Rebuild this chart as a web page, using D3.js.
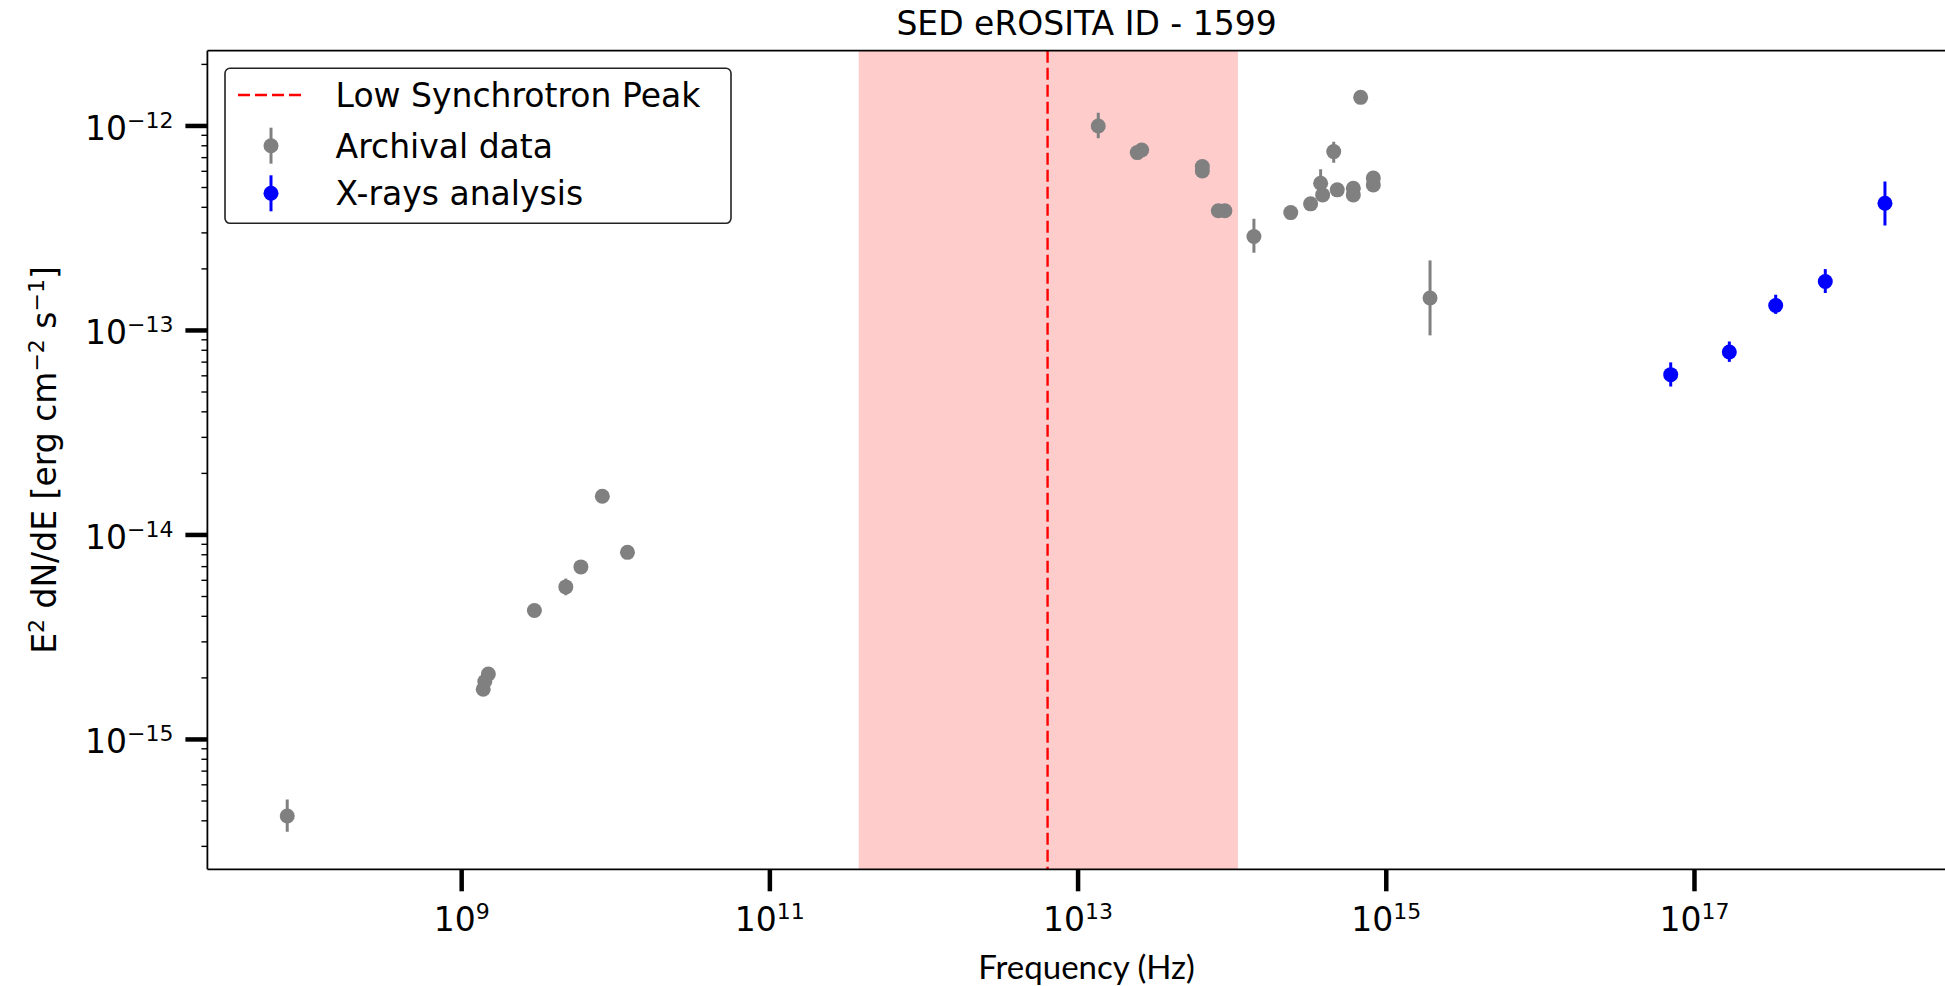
<!DOCTYPE html>
<html>
<head>
<meta charset="utf-8">
<script src="https://cdn.jsdelivr.net/npm/d3@7"></script>
<style>
  html, body { margin: 0; padding: 0; background: #fff; overflow: hidden; }
  svg { display: block; }
  text { font-family: "DejaVu Sans", sans-serif; fill: #000; }
</style>
</head>
<body>
<svg id="chart" width="1945" height="986"></svg>
<script>
// ---------------- data ----------------
const titleText = "SED eROSITA ID - 1599";
const xLabelText = "Frequency (Hz)";

// Archival data (grey)
const archFreq = [7.38e7, 1.380e9, 1.413e9, 1.490e9, 2.965e9, 4.74e9, 5.94e9, 8.18e9, 1.191e10,
  1.352e13, 2.421e13, 2.588e13, 6.40e13, 6.40e13, 8.13e13, 8.97e13, 1.384e14,
  2.399e14, 3.228e14, 3.750e14, 3.864e14, 4.560e14, 4.808e14, 6.11e14, 6.11e14,
  6.82e14, 8.24e14, 8.24e14, 1.923e15];
const archFlux = [4.22e-16, 1.76e-15, 1.92e-15, 2.09e-15, 4.27e-15, 5.57e-15, 6.98e-15, 1.545e-14, 8.22e-15,
  1.00e-12, 7.41e-13, 7.63e-13, 6.33e-13, 6.03e-13, 3.85e-13, 3.85e-13, 2.88e-13,
  3.77e-13, 4.16e-13, 5.25e-13, 4.60e-13, 7.49e-13, 4.87e-13, 4.96e-13, 4.60e-13,
  1.38e-12, 5.56e-13, 5.15e-13, 1.44e-13];
const archErrLo = [0.68e-16, 0.04e-15, 0.04e-15, 0.04e-15, 0.08e-15, 0.50e-15, 0.12e-15, 0.2e-15, 0.15e-15,
  1.29e-13, 0.1e-13, 0.1e-13, 0.1e-13, 0.1e-13, 0.05e-13, 0.05e-13, 0.48e-13,
  0.05e-13, 0.08e-13, 0.89e-13, 0.1e-13, 0.89e-13, 0.1e-13, 0.1e-13, 0.1e-13,
  0.2e-13, 0.1e-13, 0.1e-13, 0.494e-13];
const archErrHi = [0.87e-16, 0.04e-15, 0.04e-15, 0.04e-15, 0.08e-15, 0.55e-15, 0.12e-15, 0.2e-15, 0.15e-15,
  1.60e-13, 0.1e-13, 0.1e-13, 0.1e-13, 0.1e-13, 0.05e-13, 0.05e-13, 0.64e-13,
  0.05e-13, 0.08e-13, 0.89e-13, 0.1e-13, 0.89e-13, 0.1e-13, 0.1e-13, 0.1e-13,
  0.2e-13, 0.1e-13, 0.1e-13, 0.76e-13];

// X-rays analysis (blue)
const xrayFreq = [7.01e16, 1.683e17, 3.365e17, 7.06e17, 1.722e18];
const xrayFlux = [6.08e-14, 7.84e-14, 1.325e-13, 1.735e-13, 4.19e-13];
const xrayErrLo = [0.76e-14, 0.82e-14, 0.12e-13, 0.21e-13, 0.93e-13];
const xrayErrHi = [0.90e-14, 0.99e-14, 0.17e-13, 0.26e-13, 1.16e-13];

// Low synchrotron peak and its uncertainty band
const peakFreq = 6.34e12;
const bandFreq = [3.77e11, 1.09e14];

// axes
const xDomain = [Math.pow(10, 7.35), Math.pow(10, 18.76)];
const yDomain = [Math.pow(10, -15.635), Math.pow(10, -11.632)];
const xTickExps = [9, 11, 13, 15, 17];
const yTickExps = [-15, -14, -13, -12];
const legendLabels = ["Low Synchrotron Peak", "Archival data", "X-rays analysis"];

// ---------------- layout ----------------
const W = 1945, H = 986;
const plot = { left: 207.4, right: 1965.7, top: 50.7, bottom: 869.3 };
const FS = 33;
const GREY = "#808080", BLUE = "#0000ff", RED = "#ff0000";

const svg = d3.select("#chart");
const x = d3.scaleLog().domain(xDomain).range([plot.left, plot.right]);
const y = d3.scaleLog().domain(yDomain).range([plot.bottom, plot.top]);

const sup = (sel, base, exp) => {
  sel.append("tspan").text(base);
  sel.append("tspan").attr("dy", -12).attr("font-size", 22).text(exp);
};
const expStr = e => (e < 0 ? "\u2212" + Math.abs(e) : String(e));

// clip
svg.append("defs").append("clipPath").attr("id", "clip")
  .append("rect").attr("x", plot.left).attr("y", plot.top)
  .attr("width", plot.right - plot.left).attr("height", plot.bottom - plot.top);

const g = svg.append("g").attr("clip-path", "url(#clip)");

// shaded band
g.append("rect")
  .attr("x", x(bandFreq[0])).attr("y", plot.top)
  .attr("width", x(bandFreq[1]) - x(bandFreq[0]))
  .attr("height", plot.bottom - plot.top)
  .attr("fill", RED).attr("fill-opacity", 0.2);

// peak line
g.append("line")
  .attr("x1", x(peakFreq)).attr("x2", x(peakFreq))
  .attr("y1", plot.top).attr("y2", plot.bottom)
  .attr("stroke", RED).attr("stroke-width", 2.4).attr("stroke-dasharray", "12,5");

// error bars + points
function drawSeries(freq, flux, lo, hi, color) {
  const data = freq.map((f, i) => ({ f, v: flux[i], lo: lo[i], hi: hi[i] }));
  g.append("g").selectAll("line").data(data).join("line")
    .attr("x1", d => x(d.f)).attr("x2", d => x(d.f))
    .attr("y1", d => y(d.v + d.hi)).attr("y2", d => y(Math.max(d.v - d.lo, 1e-30)))
    .attr("stroke", color).attr("stroke-width", 3);
  g.append("g").selectAll("circle").data(data).join("circle")
    .attr("cx", d => x(d.f)).attr("cy", d => y(d.v)).attr("r", 7.5)
    .attr("fill", color);
}
drawSeries(archFreq, archFlux, archErrLo, archErrHi, GREY);
drawSeries(xrayFreq, xrayFlux, xrayErrLo, xrayErrHi, BLUE);

// spines
const sp = svg.append("g").attr("stroke", "#000").attr("stroke-width", 1.8).attr("fill", "none");
sp.append("line").attr("x1", plot.left).attr("x2", plot.left).attr("y1", plot.top).attr("y2", plot.bottom);
sp.append("line").attr("x1", plot.left).attr("x2", plot.right).attr("y1", plot.bottom).attr("y2", plot.bottom);
sp.append("line").attr("x1", plot.left).attr("x2", plot.right).attr("y1", plot.top).attr("y2", plot.top);
sp.append("line").attr("x1", plot.right).attr("x2", plot.right).attr("y1", plot.top).attr("y2", plot.bottom);

// x ticks
const xt = svg.append("g");
xTickExps.forEach(e => {
  const px = x(Math.pow(10, e));
  xt.append("line").attr("x1", px).attr("x2", px).attr("y1", plot.bottom).attr("y2", plot.bottom + 22)
    .attr("stroke", "#000").attr("stroke-width", 4.5);
  const t = xt.append("text").attr("x", px).attr("y", 931).attr("text-anchor", "middle").attr("font-size", FS);
  sup(t, "10", expStr(e));
});

// y ticks (major + minor)
const yt = svg.append("g");
yTickExps.forEach(e => {
  const py = y(Math.pow(10, e));
  yt.append("line").attr("x1", plot.left - 22).attr("x2", plot.left).attr("y1", py).attr("y2", py)
    .attr("stroke", "#000").attr("stroke-width", 4.5);
  const t = yt.append("text").attr("x", 173.5).attr("y", py + 14).attr("text-anchor", "end").attr("font-size", FS);
  sup(t, "10", expStr(e));
});
for (let e = -16; e <= -12; e++) {
  for (let m = 2; m <= 9; m++) {
    const v = m * Math.pow(10, e);
    if (v < yDomain[0] || v > yDomain[1]) continue;
    const py = y(v);
    yt.append("line").attr("x1", plot.left - 6).attr("x2", plot.left).attr("y1", py).attr("y2", py)
      .attr("stroke", "#000").attr("stroke-width", 1.4);
  }
}

// title
svg.append("text").attr("x", (plot.left + plot.right) / 2).attr("y", 35)
  .attr("text-anchor", "middle").attr("font-size", FS).text(titleText);

// x label
svg.append("text").attr("x", (plot.left + plot.right) / 2).attr("y", 979)
  .attr("text-anchor", "middle").attr("font-size", 33)
  .style("font-family", "Lato, 'Open Sans', sans-serif").text(xLabelText);

// y label
const yl = svg.append("text")
  .attr("transform", `translate(56,${(plot.top + plot.bottom) / 2}) rotate(-90)`)
  .attr("text-anchor", "middle").attr("font-size", FS);
yl.append("tspan").text("E");
yl.append("tspan").attr("dy", -12).attr("font-size", 22).text("2");
yl.append("tspan").attr("dy", 12).text(" dN/dE [erg cm");
yl.append("tspan").attr("dy", -12).attr("font-size", 22).text("\u22122");
yl.append("tspan").attr("dy", 12).text(" s");
yl.append("tspan").attr("dy", -12).attr("font-size", 22).text("\u22121");
yl.append("tspan").attr("dy", 12).text("]");

// legend
const lg = svg.append("g");
lg.append("rect").attr("x", 225).attr("y", 68.3).attr("width", 506).attr("height", 155)
  .attr("rx", 5).attr("fill", "#fff").attr("stroke", "#222").attr("stroke-width", 1.6);
const rowY = [95, 145.7, 193.3];
const hx = 271;
lg.append("line").attr("x1", hx - 33).attr("x2", hx + 33).attr("y1", rowY[0]).attr("y2", rowY[0])
  .attr("stroke", RED).attr("stroke-width", 2.4).attr("stroke-dasharray", "12,5");
[[GREY, rowY[1]], [BLUE, rowY[2]]].forEach(([c, ry]) => {
  lg.append("line").attr("x1", hx).attr("x2", hx).attr("y1", ry - 18).attr("y2", ry + 18)
    .attr("stroke", c).attr("stroke-width", 3);
  lg.append("circle").attr("cx", hx).attr("cy", ry).attr("r", 7.5).attr("fill", c);
});
legendLabels.forEach((s, i) => {
  lg.append("text").attr("x", 335.6).attr("y", rowY[i] + 12).attr("font-size", FS).text(s);
});
</script>
</body>
</html>
